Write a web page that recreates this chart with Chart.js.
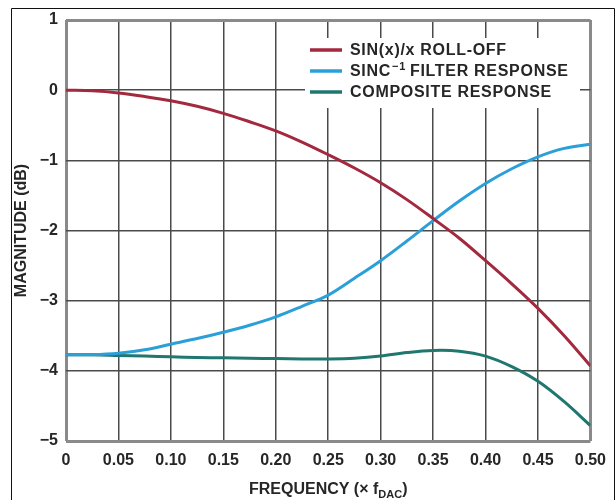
<!DOCTYPE html>
<html>
<head>
<meta charset="utf-8">
<script src="https://cdn.jsdelivr.net/npm/chart.js@4/dist/chart.umd.min.js"></script>
<style>
    html, body { margin: 0; padding: 0; background: #fff; }
    canvas { display: block; }
</style>
</head>
<body>
<canvas id="chart" width="616" height="500"></canvas>
<script>
// Data
const freq = [0, 0.025, 0.05, 0.075, 0.1, 0.125, 0.15, 0.175, 0.2, 0.225, 0.25,
    0.275, 0.3, 0.325, 0.35, 0.375, 0.4, 0.425, 0.45, 0.475, 0.5]
const rollOff = [0, -0.01, -0.04, -0.09, -0.15, -0.23, -0.33, -0.45, -0.58, -0.74, -0.92,
    -1.11, -1.32, -1.56, -1.83, -2.11, -2.43, -2.76, -3.11, -3.5, -3.93]
const sincInverse = [-3.77, -3.77, -3.75, -3.7, -3.62, -3.54, -3.45, -3.35, -3.23, -3.08, -2.92,
    -2.68, -2.43, -2.15, -1.86, -1.58, -1.33, -1.12, -0.95, -0.83, -0.77]
const composite = [-3.77, -3.77, -3.78, -3.79, -3.8, -3.81, -3.815, -3.82, -3.825, -3.83, -3.83,
    -3.82, -3.79, -3.74, -3.71, -3.72, -3.79, -3.94, -4.15, -4.44, -4.78]

const seriesNames = ['SIN(x)/x ROLL-OFF', 'SINC', 'COMPOSITE RESPONSE']
const xTickLabels = ['0', '0.05', '0.10', '0.15', '0.20', '0.25', '0.30', '0.35', '0.40', '0.45', '0.50']
const yTickLabels = ['\u22125', '\u22124', '\u22123', '\u22122', '\u22121', '0', '1']

const FONT = '"Liberation Sans", Arial, sans-serif'
const TEXT = '#262626'

function toPoints (ys) {
    return freq.map((f, i) => ({ x: f, y: ys[i] }))
}

function isEdge (value, lo, hi) {
    return Math.abs(value - lo) < 1e-6 || Math.abs(value - hi) < 1e-6
}

// Outer frame round the figure
const framePlugin = {
    id: 'frame',
    beforeDraw (chart) {
        const ctx = chart.ctx
        ctx.save()
        ctx.strokeStyle = '#111'
        ctx.lineWidth = 1
        ctx.beginPath()
        ctx.moveTo(11.5, 500)
        ctx.lineTo(11.5, 8.5)
        ctx.lineTo(614.5, 8.5)
        ctx.lineTo(614.5, 500)
        ctx.stroke()
        ctx.restore()
    }
}

// Legend inside the plot, on a white box that hides the grid
const legendPlugin = {
    id: 'boxLegend',
    beforeDatasetsDraw (chart) {
        const ctx = chart.ctx
        ctx.save()
        ctx.fillStyle = '#fff'
        ctx.fillRect(305, 38, 275, 70)
        ctx.restore()
    },
    afterDatasetsDraw (chart) {
        const ctx = chart.ctx
        ctx.save()
        ctx.font = 'bold 16px ' + FONT
        ctx.textBaseline = 'middle'
        ctx.letterSpacing = '0.7px'
        chart.data.datasets.forEach((ds, i) => {
            const y = 50 + i * 21
            ctx.strokeStyle = ds.borderColor
            ctx.lineWidth = 3.5
            ctx.beginPath()
            ctx.moveTo(310, y)
            ctx.lineTo(342, y)
            ctx.stroke()
            ctx.fillStyle = TEXT
            ctx.textAlign = 'left'
            let x = 350
            ctx.fillText(ds.label, x, y + 1)
            if (i === 1) {
                // SINC^-1 FILTER RESPONSE
                x += ctx.measureText(ds.label).width + 1
                ctx.font = 'bold 11px ' + FONT
                ctx.fillText('\u22121', x, y - 4)
                x += ctx.measureText('\u22121').width + 4
                ctx.font = 'bold 16px ' + FONT
                ctx.fillText('FILTER RESPONSE', x, y + 1)
            }
        })
        ctx.restore()
    },
    afterDraw (chart) {
        // x axis title with subscript
        const ctx = chart.ctx
        const area = chart.chartArea
        ctx.save()
        ctx.fillStyle = TEXT
        ctx.textBaseline = 'alphabetic'
        ctx.textAlign = 'left'
        const big = 'bold 16px ' + FONT
        const small = 'bold 11px ' + FONT
        const parts = [['FREQUENCY (\u00d7 f', big, 0], ['DAC', small, 4], [')', big, 0]]
        let total = 0
        parts.forEach(p => { ctx.font = p[1]; total += ctx.measureText(p[0]).width })
        let x = (area.left + area.right) / 2 - total / 2
        parts.forEach(p => {
            ctx.font = p[1]
            ctx.fillText(p[0], x, 494 + p[2])
            x += ctx.measureText(p[0]).width
        })
        ctx.restore()
    }
}

const chart = new Chart(document.getElementById('chart').getContext('2d'), {
    type: 'line',
    data: {
        datasets: [
            { label: seriesNames[0], data: toPoints(rollOff), borderColor: '#a3293f' },
            { label: seriesNames[1], data: toPoints(sincInverse), borderColor: '#2b9fd8' },
            { label: seriesNames[2], data: toPoints(composite), borderColor: '#1f7770' }
        ]
    },
    options: {
        responsive: false,
        animation: false,
        layout: { padding: { top: 20, right: 20, left: 0, bottom: 0 } },
        elements: {
            line: { borderWidth: 3, tension: 0.35, fill: false },
            point: { radius: 0 }
        },
        plugins: {
            legend: { display: false },
            tooltip: { enabled: false }
        },
        scales: {
            x: {
                type: 'linear',
                min: 0,
                max: 0.5,
                afterFit (scale) { scale.height = 59 },
                ticks: {
                    stepSize: 0.05,
                    padding: 10,
                    maxRotation: 0,
                    color: TEXT,
                    font: { family: FONT, size: 16, weight: 'bold' },
                    callback: (value, index) => xTickLabels[index]
                },
                grid: {
                    drawTicks: false,
                    color: ctx => isEdge(ctx.tick.value, 0, 0.5) ? '#8a8a8a' : '#4a4a4a',
                    lineWidth: ctx => isEdge(ctx.tick.value, 0, 0.5) ? 3 : 1.5
                },
                border: { display: false }
            },
            y: {
                min: -5,
                max: 1,
                afterFit (scale) { scale.width = 66 },
                ticks: {
                    stepSize: 1,
                    padding: 8,
                    color: TEXT,
                    font: { family: FONT, size: 16, weight: 'bold' },
                    callback: (value, index) => yTickLabels[index]
                },
                grid: {
                    drawTicks: false,
                    color: ctx => isEdge(ctx.tick.value, -5, 1) ? '#8a8a8a' : '#4a4a4a',
                    lineWidth: ctx => isEdge(ctx.tick.value, -5, 1) ? 3 : 1.5
                },
                border: { display: false },
                title: {
                    display: true,
                    text: 'MAGNITUDE (dB)',
                    color: TEXT,
                    font: { family: FONT, size: 16, weight: 'bold' },
                    padding: { top: 12, bottom: 0 }
                }
            }
        }
    },
    plugins: [framePlugin, legendPlugin]
})
</script>
</body>
</html>
